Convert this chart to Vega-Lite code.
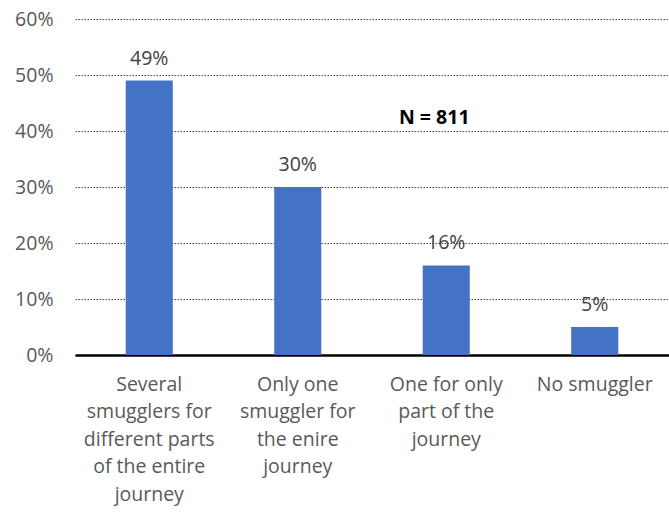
{
  "$schema": "https://vega.github.io/schema/vega-lite/v6.json",
  "width": 594,
  "height": 336,
  "autosize": {"type": "none"},
  "padding": {"left": 75, "top": 19, "right": 0, "bottom": 164},
  "background": "white",
  "config": {"view": {"stroke": null}, "font": "Open Sans"},
  "datasets": {
    "bars": [
      {"cat": "Several|smugglers for|different parts|of the entire|journey", "share": 0.49},
      {"cat": "Only one|smuggler for|the enire|journey", "share": 0.30},
      {"cat": "One for only|part of the|journey", "share": 0.16},
      {"cat": "No smuggler", "share": 0.05}
    ],
    "note": [
      {"cat": "One for only|part of the|journey", "share": 0.423, "label": "N = 811"}
    ]
  },
  "layer": [
    {
      "data": {"name": "bars"},
      "mark": {"type": "bar", "color": "#4472C4"},
      "encoding": {
        "x": {
          "field": "cat", "type": "nominal", "sort": null,
          "scale": {"paddingInner": 0.683, "paddingOuter": 0.3415},
          "axis": {
            "title": null, "labelAngle": 0, "ticks": false,
            "domainColor": "#000000", "domainWidth": 2.5,
            "labelExpr": "split(datum.value, '|')",
            "labelLineHeight": 27.5, "labelFontSize": 19.5, "labelColor": "#595959",
            "labelPadding": 20, "labelBaseline": "top", "labelLimit": 200
          }
        },
        "y": {
          "field": "share", "type": "quantitative",
          "scale": {"domain": [0, 0.6], "nice": false},
          "axis": {
            "title": null, "format": ".0%", "values": [0, 0.1, 0.2, 0.3, 0.4, 0.5, 0.6],
            "domain": false, "ticks": false, "gridColor": "#404040", "gridDash": [1.5, 1.5],
            "gridWidth": 1, "labelFontSize": 19.5, "labelColor": "#595959", "labelPadding": 22
          }
        }
      }
    },
    {
      "data": {"name": "bars"},
      "mark": {"type": "text", "baseline": "bottom", "dy": -12, "fontSize": 19.5, "color": "#404040"},
      "encoding": {
        "x": {"field": "cat", "type": "nominal", "sort": null},
        "y": {"field": "share", "type": "quantitative"},
        "text": {"field": "share", "type": "quantitative", "format": ".0%"}
      }
    },
    {
      "data": {"name": "note"},
      "mark": {"type": "text", "baseline": "middle", "dx": -12, "fontSize": 19.5, "fontWeight": "bold", "color": "#000000"},
      "encoding": {
        "x": {"field": "cat", "type": "nominal", "sort": null},
        "y": {"field": "share", "type": "quantitative"},
        "text": {"field": "label", "type": "nominal"}
      }
    }
  ]
}
